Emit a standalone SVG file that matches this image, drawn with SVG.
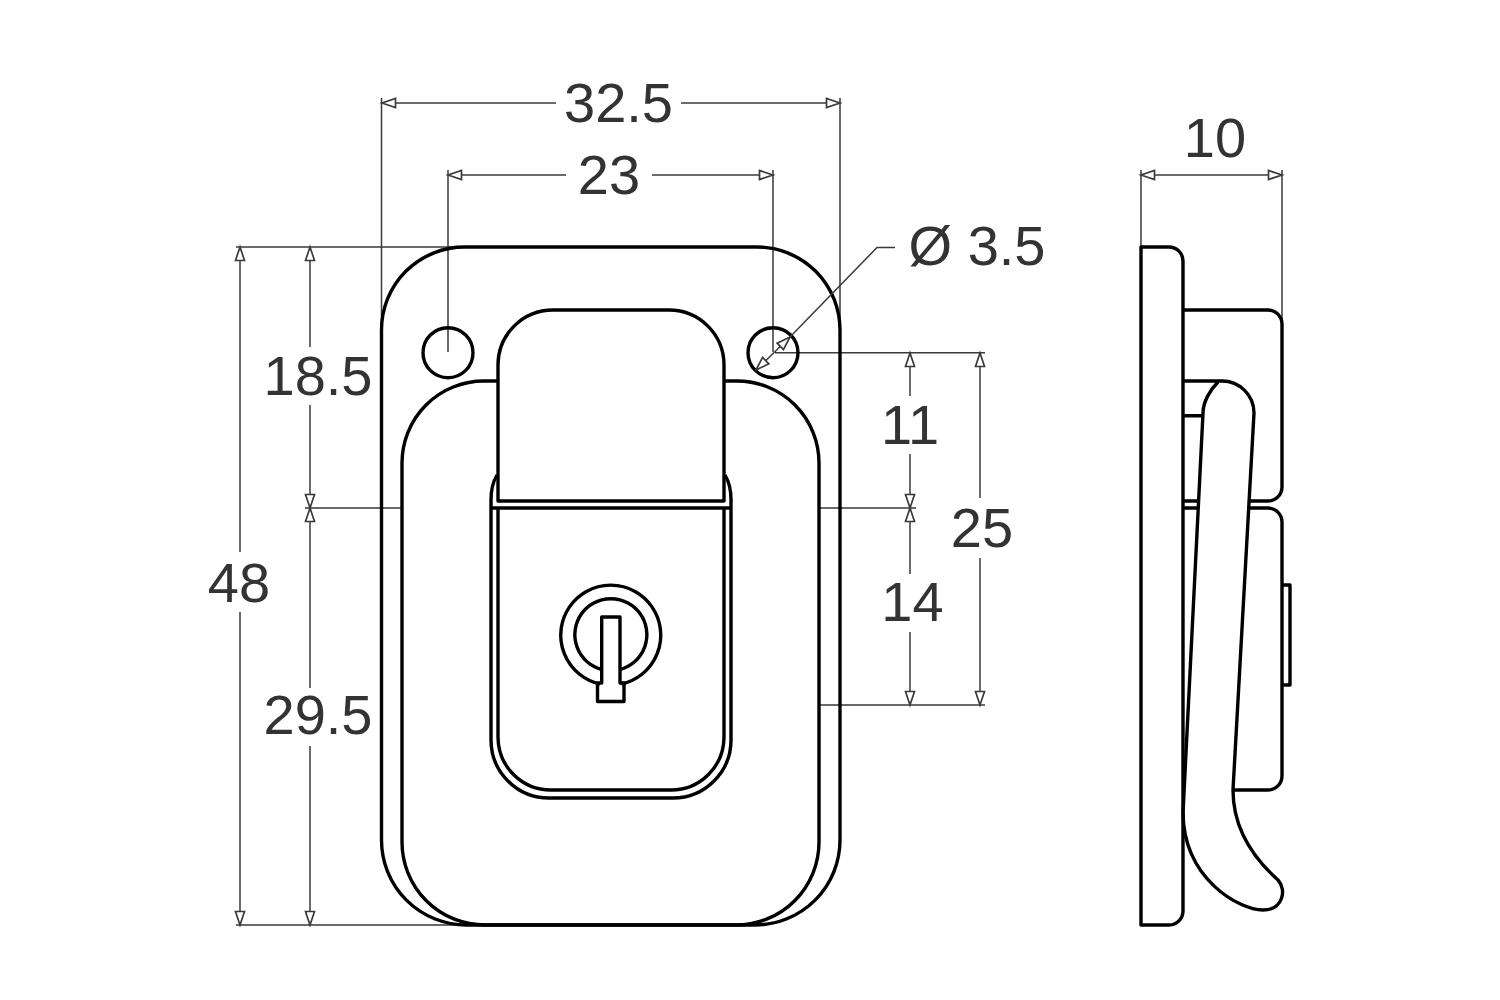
<svg xmlns="http://www.w3.org/2000/svg" width="1500" height="1000" viewBox="0 0 1500 1000">
<style>
.o{fill:none;stroke:#000;stroke-width:3.4;stroke-linejoin:round;stroke-linecap:butt}
.d{fill:none;stroke:#3a3a3a;stroke-width:1.5}
.a{marker-start:url(#ah);marker-end:url(#ah)}
.t{font-family:"Liberation Sans",Arial,sans-serif;font-size:56px;fill:#333;text-anchor:middle}
</style>
<defs>
<marker id="ah" markerUnits="userSpaceOnUse" markerWidth="18" markerHeight="12" refX="13" refY="5" orient="auto-start-reverse" viewBox="0 0 16 10" overflow="visible">
<path d="M13 5L1 1V9Z" fill="#fff" stroke="#3a3a3a" stroke-width="1.5"/>
</marker>
</defs>
<rect width="1500" height="1000" fill="#fff"/>
<g id="connectors">
<path class="d" d="M381.5 98V330M840 98V330M448 170V352M773 170V352M1141 170V247M1282 170V322"/>
<path class="d" d="M236 247H462M236 925H480M305 508H402M819 508H916M775 352.7H985M819 705H985"/>
<path class="d a" d="M382 103H556" style="marker-end:none"/>
<path class="d a" d="M681 103H840" style="marker-start:none"/>
<path class="d a" d="M448 175H566" style="marker-end:none"/>
<path class="d a" d="M652 175H773" style="marker-start:none"/>
<path class="d a" d="M1141 175H1282"/>
<path class="d a" d="M240 247V552" style="marker-end:none"/>
<path class="d a" d="M240 612V925" style="marker-start:none"/>
<path class="d a" d="M310 247V347" style="marker-end:none"/>
<path class="d a" d="M310 405V508" style="marker-start:none"/>
<path class="d a" d="M310 508V688" style="marker-end:none"/>
<path class="d a" d="M310 746V925" style="marker-start:none"/>
<path class="d a" d="M910 353V396" style="marker-end:none"/>
<path class="d a" d="M910 454V508" style="marker-start:none"/>
<path class="d a" d="M910 508V574" style="marker-end:none"/>
<path class="d a" d="M910 632V705" style="marker-start:none"/>
<path class="d a" d="M980 353V498" style="marker-end:none"/>
<path class="d a" d="M980 558V705" style="marker-start:none"/>
</g>
<g id="front-plate">
<path class="o" d="M381.5 330A83 83 0 0 1 464.500 247H757A83 83 0 0 1 840 330V840A85 85 0 0 1 755 925H466.500A85 85 0 0 1 381.500 840Z"/>
</g>
<g id="front-inner-plate">
<path class="o" d="M498 381H484A82 82 0 0 0 402 463V842A83 83 0 0 0 485 925H736A83 83 0 0 0 819 842V463A82 82 0 0 0 737 381H724"/>
</g>
<g id="hole-left"><circle class="o" cx="448" cy="352.700" r="25"/></g>
<g id="hole-right"><circle class="o" cx="773" cy="352.700" r="25"/></g>
<g id="latch">
<path class="o" d="M498 501V365A55 55 0 0 1 553 310H669A55 55 0 0 1 724 365V501Z"/>
</g>
<g id="lower-body">
<path class="o" d="M497 475Q491 485 491 500V740A58 58 0 0 0 549 798H673A58 58 0 0 0 731 740V500Q731 485 725 475"/>
<path class="o" d="M498 508V737A53 53 0 0 0 551 790H671A53 53 0 0 0 724 737V508"/>
<path class="o" d="M491 508H731"/>
</g>
<g id="lock">
<path class="o" d="M600 684A50 50 0 1 1 621.500 684"/>
<path class="o" d="M601.700 669.500A36 36 0 1 1 620 669.500"/>
<path class="o" d="M601.700 683V617H620V683H624V701.500H597.500V683Z"/>
</g>
<g id="side-plate">
<path class="o" d="M1141 247H1169A14 14 0 0 1 1183 261V911A14 14 0 0 1 1169 925H1141Z"/>
</g>
<g id="side-blocks">
<path class="o" d="M1183 310H1268A14 14 0 0 1 1282 324V487A14 14 0 0 1 1268 501H1248"/>
<path class="o" d="M1183 501H1199M1183 508H1199M1183 415.700H1204"/>
<path class="o" d="M1248 508H1268A14 14 0 0 1 1282 522V776A14 14 0 0 1 1268 790H1233"/>
<path class="o" d="M1282 585H1290V685H1282"/>
</g>
<g id="side-hook">
<path class="o" d="M1183 381H1222A32 32 0 0 1 1254 413L1233 790C1233 825 1250 855 1278 880C1287 890 1283 910 1263 910C1240 910 1184 880 1183 813L1203 413C1203 402 1210 390 1218 382"/>
</g>
<g id="leader">
<path class="d" d="M895 247.500H877L790 337"/>
<path class="d a" d="M790 337L756 370"/>
</g>
<g id="labels">
<text class="t" x="618.500" y="121.500">32.5</text>
<text class="t" x="609" y="193.500">23</text>
<text class="t" x="1215" y="156.500">10</text>
<text class="t" x="977" y="264.500">Ø 3.5</text>
<text class="t" x="239" y="601.500">48</text>
<text class="t" x="318" y="394.500">18.5</text>
<text class="t" x="318" y="733.500">29.5</text>
<text class="t" x="910" y="443.500">11</text>
<text class="t" x="912.500" y="620.500">14</text>
<text class="t" x="982" y="546.500">25</text>
</g>
</svg>
